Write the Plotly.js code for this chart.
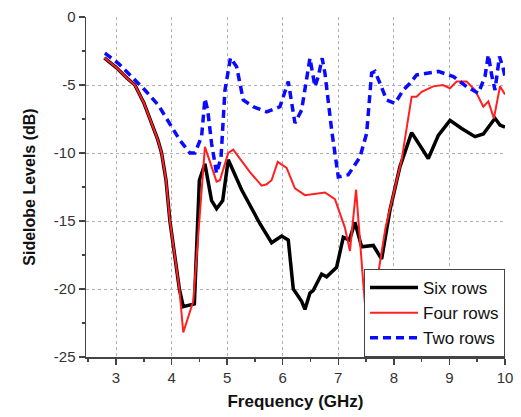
<!DOCTYPE html>
<html>
<head>
<meta charset="utf-8">
<script src="https://cdn.plot.ly/plotly-3.0.1.min.js"></script>
<style>html,body{margin:0;padding:0;background:#fff;}#chart{width:521px;height:417px;}</style>
</head>
<body>
<div id="chart"></div>
<script>
const freqSix = [2.79,3.0,3.2,3.34,3.5,3.64,3.75,3.82,3.9,3.97,4.05,4.14,4.21,4.41,4.5,4.6,4.72,4.81,4.92,5.02,5.26,5.59,5.8,5.98,6.1,6.19,6.34,6.4,6.49,6.55,6.7,6.79,6.97,7.09,7.2,7.3,7.42,7.63,7.78,7.93,8.11,8.32,8.62,8.8,9.01,9.22,9.46,9.61,9.82,9.91,10.0];
const levelSix = [-3.0,-3.7,-4.5,-5.0,-6.3,-7.8,-9.0,-10.0,-12.0,-15.0,-17.5,-20.0,-21.3,-21.1,-12.0,-10.8,-13.5,-14.1,-13.5,-10.5,-12.7,-15.2,-16.6,-16.1,-16.4,-20.0,-20.9,-21.5,-20.3,-20.1,-18.9,-19.1,-18.4,-16.2,-16.4,-15.1,-16.9,-16.8,-17.8,-14.2,-11.0,-8.5,-10.4,-8.7,-7.6,-8.2,-8.8,-8.6,-7.45,-7.95,-8.1];

const freqFour = [2.79,3.0,3.2,3.34,3.5,3.64,3.75,3.82,3.9,3.97,4.05,4.14,4.21,4.39,4.6,4.81,4.87,5.02,5.11,5.23,5.41,5.62,5.71,5.8,5.91,6.07,6.22,6.4,6.76,6.94,7.12,7.21,7.32,7.45,7.55,7.69,7.85,8.14,8.32,8.41,8.5,8.71,8.88,9.01,9.13,9.31,9.46,9.61,9.7,9.8,9.91,10.0];
const levelFour = [-3.0,-3.7,-4.5,-5.0,-6.3,-7.8,-9.0,-10.0,-12.0,-15.0,-17.5,-20.0,-23.2,-20.9,-9.55,-12.1,-12.0,-10.0,-9.75,-10.4,-11.4,-12.4,-12.3,-12.0,-10.65,-11.1,-12.6,-13.1,-12.9,-13.4,-15.5,-17.2,-12.7,-19.6,-24.5,-19.6,-15.5,-10.5,-5.86,-5.86,-5.5,-5.1,-5.0,-5.24,-4.75,-4.75,-5.37,-6.6,-6.2,-7.45,-5.1,-5.7];

const freqTwo = [2.8,3.04,3.28,3.52,3.76,4.0,4.15,4.33,4.42,4.54,4.6,4.65,4.72,4.81,4.89,4.96,5.06,5.17,5.29,5.47,5.71,5.95,6.1,6.22,6.34,6.49,6.58,6.64,6.71,6.76,6.88,7.0,7.18,7.39,7.51,7.6,7.66,7.75,7.87,8.02,8.17,8.29,8.41,8.8,9.07,9.31,9.52,9.64,9.7,9.76,9.82,9.9,9.96,10.0];
const levelTwo = [-2.66,-3.4,-4.38,-5.37,-6.47,-8.07,-9.06,-10.0,-10.0,-8.8,-6.0,-6.84,-9.3,-11.5,-10.3,-5.4,-3.0,-3.65,-6.1,-6.6,-6.97,-6.6,-4.75,-7.8,-6.84,-3.03,-5.12,-4.38,-3.03,-4.13,-8.3,-11.76,-11.6,-10.3,-8.56,-4.13,-4.0,-4.87,-6.1,-6.35,-5.37,-4.87,-4.26,-4.0,-4.38,-5.12,-5.6,-4.38,-2.78,-4.26,-5.37,-2.9,-3.65,-4.38];

const seriesNames = ["Six rows","Four rows","Two rows"];
const xTickVals = [3,4,5,6,7,8,9,10];
const yTickVals = [0,-5,-10,-15,-20,-25];

const traces = [
  {x: freqSix, y: levelSix, name: seriesNames[0], mode: 'lines', line: {color: '#000000', width: 3.5}},
  {x: freqFour, y: levelFour, name: seriesNames[1], mode: 'lines', line: {color: '#ff2020', width: 2}},
  {x: freqTwo, y: levelTwo, name: seriesNames[2], mode: 'lines', line: {color: '#0a0aff', width: 3.5, dash: '8px,5px'}}
];

const axisFont = {family: 'Arial, Liberation Sans, sans-serif', size: 15, color: '#333'};
const layout = {
  width: 521, height: 417,
  margin: {l: 86, r: 16, t: 17, b: 60},
  paper_bgcolor: '#fff', plot_bgcolor: '#fff',
  showlegend: true,
  legend: {x: 1, y: 0, xanchor: 'right', yanchor: 'bottom', bgcolor: '#fff', bordercolor: '#444', borderwidth: 1,
           font: {family: 'Arial, Liberation Sans, sans-serif', size: 17, color: '#111'}, itemwidth: 48, tracegroupgap: 0},
  xaxis: {
    range: [2.46, 10.0], tickvals: xTickVals, ticktext: xTickVals.map(String),
    showline: true, linecolor: '#444', linewidth: 1.5, ticks: 'outside', ticklen: 6, tickcolor: '#444', tickwidth: 1.5,
    showgrid: true, gridcolor: '#b0b0b0', griddash: 'dot', gridwidth: 1, zeroline: false,
    minor: {dtick: 0.5, tick0: 2.5, ticks: 'outside', ticklen: 3, tickcolor: '#444', showgrid: false},
    tickfont: axisFont,
    title: {text: '<b>Frequency (GHz)</b>', font: {family: 'Arial, Liberation Sans, sans-serif', size: 17, color: '#111'}, standoff: 10}
  },
  yaxis: {
    range: [-25, 0], tickvals: yTickVals, ticktext: yTickVals.map(String),
    showline: true, linecolor: '#444', linewidth: 1.5, ticks: 'outside', ticklen: 6, tickcolor: '#444', tickwidth: 1.5,
    showgrid: true, gridcolor: '#b0b0b0', griddash: 'dot', gridwidth: 1, zeroline: false,
    minor: {dtick: 2.5, tick0: 0, ticks: 'outside', ticklen: 3, tickcolor: '#444', showgrid: false},
    tickfont: axisFont,
    title: {text: '<b>Sidelobe Levels (dB)</b>', font: {family: 'Arial, Liberation Sans, sans-serif', size: 16, color: '#111'}, standoff: 14}
  }
};

Plotly.newPlot('chart', traces, layout, {staticPlot: true, displayModeBar: false});
</script>
</body>
</html>
